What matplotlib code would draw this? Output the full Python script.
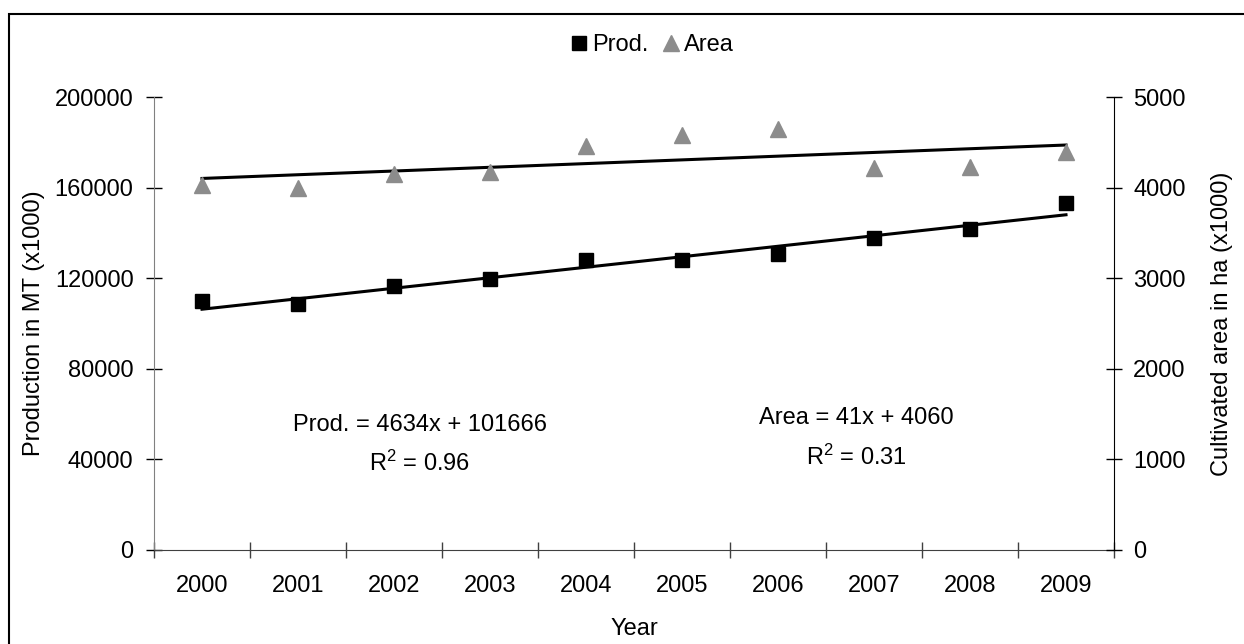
import matplotlib
matplotlib.use("Agg")
import matplotlib.pyplot as plt
from matplotlib.patches import Rectangle
import numpy as np

plt.rcParams['font.family'] = ['Liberation Sans', 'DejaVu Sans']

years = ['2000', '2001', '2002', '2003', '2004', '2005', '2006', '2007', '2008', '2009']
prod = [110000, 108700, 116500, 119700, 128000, 128000, 130700, 137700, 141700, 153300]
area = [4030, 3995, 4150, 4175, 4460, 4580, 4650, 4215, 4230, 4395]

# trendline coefficients as printed on the chart (x = 1..10)
prod_fit = [4634, 101666]
area_fit = [41, 4060]
prod_r2 = 0.96
area_r2 = 0.31

x = np.arange(len(years))
xn = x + 1

fig = plt.figure(figsize=(12.44, 6.44), dpi=100)
ax = fig.add_axes([154 / 1244, 1 - 550 / 644, 960 / 1244, 453 / 644])
ax2 = ax.twinx()

ax.plot(x, prod_fit[0] * xn + prod_fit[1], color='black', lw=2.2, zorder=2)
ax.plot(x, prod, 's', color='black', ms=10.5, zorder=3, label='Prod.')
ax2.plot(x, area_fit[0] * xn + area_fit[1], color='black', lw=2.2, zorder=2)
ax2.plot(x, area, '^', color='#8c8c8c', ms=12, zorder=3, label='Area')

ax.set_xlim(-0.5, len(years) - 0.5)
ax.set_ylim(0, 200000)
ax2.set_ylim(0, 5000)
ax.set_yticks(np.arange(0, 200001, 40000))
ax2.set_yticks(np.arange(0, 5001, 1000))
ax.set_xticks(np.arange(-0.5, len(years), 1))
ax.set_xticklabels([])
ax.set_xticks(x, minor=True)
ax.set_xticklabels(years, minor=True)

fs = 17
ax.tick_params(axis='y', direction='inout', length=11.5, width=1, labelsize=fs, pad=9)
ax2.tick_params(axis='y', direction='inout', length=11.5, width=1, labelsize=fs, pad=8)
ax.tick_params(axis='x', which='major', direction='inout', length=11.5, width=1, color='#404040')
ax.tick_params(axis='x', which='minor', length=0, labelsize=fs, pad=18)

ax.spines['top'].set_visible(False)
ax2.spines['top'].set_visible(False)
ax.spines['left'].set_color('#808080')
ax.spines['bottom'].set_color('#404040')
ax2.spines['left'].set_visible(False)
ax2.spines['bottom'].set_visible(False)
ax.spines['right'].set_visible(False)
ax2.spines['right'].set_color('black')

ax.set_ylabel('Production in MT (x1000)', fontsize=fs, labelpad=7)
ax2.set_ylabel('Cultivated area in ha (x1000)', fontsize=fs, rotation=90, labelpad=18)
ax.set_xlabel('Year', fontsize=fs, labelpad=15)

ax.text(0.277, 0.276, 'Prod. = %dx + %d' % (prod_fit[0], prod_fit[1]), transform=ax.transAxes,
        ha='center', va='center', fontsize=fs)
ax.text(0.277, 0.192, '$\\mathregular{R^2}$ = %.2f' % prod_r2, transform=ax.transAxes,
        ha='center', va='center', fontsize=fs)
ax.text(0.732, 0.291, 'Area = %dx + %d' % (area_fit[0], area_fit[1]), transform=ax.transAxes,
        ha='center', va='center', fontsize=fs)
ax.text(0.732, 0.205, '$\\mathregular{R^2}$ = %.2f' % area_r2, transform=ax.transAxes,
        ha='center', va='center', fontsize=fs)

h1, l1 = ax.get_legend_handles_labels()
h2, l2 = ax2.get_legend_handles_labels()
fig.legend(h1 + h2, l1 + l2, loc='center', bbox_to_anchor=(652 / 1244, 1 - 45 / 644), ncol=2,
           frameon=False, fontsize=fs, handlelength=0.7, handletextpad=0.2, columnspacing=0.6,
           borderpad=0)

fig.patches.append(Rectangle((9 / 1244, -0.1), 1.1, 1.1 - 14 / 644, transform=fig.transFigure,
                             fill=False, edgecolor='black', lw=1.5, clip_on=False))

fig.savefig('out.png', dpi=100)
